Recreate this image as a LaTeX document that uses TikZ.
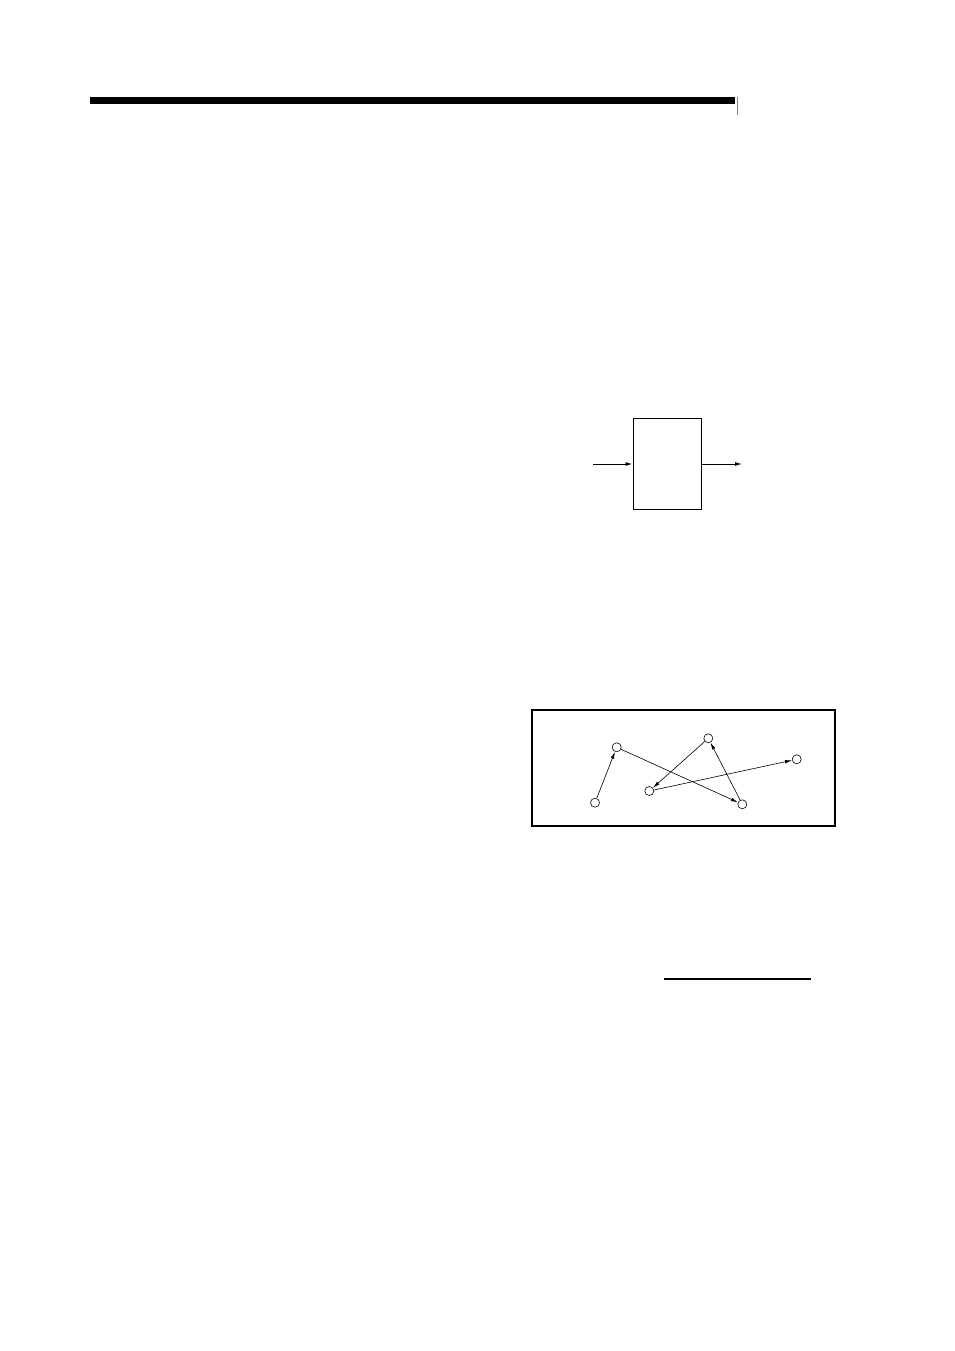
\documentclass[tikz,border=0pt]{standalone}
\usetikzlibrary{arrows.meta}
\begin{document}
\begin{tikzpicture}[x=1pt,y=-1pt,
  pt/.style={circle,draw,line width=0.6pt,minimum size=9pt,inner sep=0pt},
  link/.style={line width=0.6pt,-{Latex[length=7pt,width=3.5pt]}},
  blk/.style={draw,line width=1pt,minimum width=68pt,minimum height=91pt,inner sep=0pt},
  io/.style={line width=1pt,-{Latex[length=7pt,width=4pt]}}]
\useasboundingbox (0,0) rectangle (954,1351);
% header bar
\fill (90,97) rectangle (735,104);
\draw[line width=0.6pt,gray] (737,97) -- (737,115);
% block
\node[blk] (box) at (667,463.5) {};
\coordinate (inl) at (593,464);
\coordinate (outr) at (742,464);
\draw[io] (inl) -- (box.west |- inl);
\draw[io] (box.east |- outr) -- (outr);
% frame
\node[draw,line width=2pt,minimum width=303pt,minimum height=116pt,inner sep=0pt] (frame) at (683.3,768) {};
\node[pt] (A) at (595,802.7) {};
\node[pt] (B) at (616.7,747.3) {};
\node[pt] (C) at (708.3,738.3) {};
\node[pt] (D) at (796.7,759.3) {};
\node[pt] (E) at (649.3,791) {};
\node[pt] (F) at (742.3,804.3) {};
\draw[link] (A) -- (B);
\draw[link] (B) -- (F);
\draw[link] (C) -- (E);
\draw[link] (F) -- (C);
\draw[link] (E) -- (D);
% underline
\coordinate (u1) at (664,979);
\coordinate (u2) at (811,979);
\draw[line width=2pt] (u1) -- (u2);
\end{tikzpicture}
\end{document}
